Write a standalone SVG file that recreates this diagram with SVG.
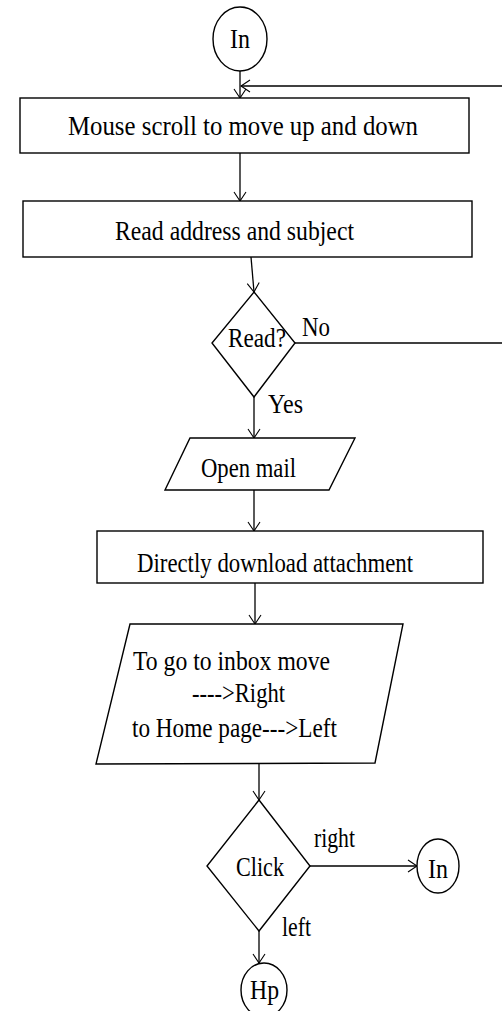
<svg xmlns="http://www.w3.org/2000/svg" width="502" height="1011" viewBox="0 0 502 1011">
<defs>
<marker id="arr" markerWidth="12" markerHeight="14" refX="10" refY="7" orient="auto" markerUnits="userSpaceOnUse">
<path d="M1,1 L10,7 L1,13" fill="none" stroke="#000" stroke-width="1.1"/>
</marker>
<style>
.s{fill:#fff;stroke:#000;stroke-width:1.4}
.c{fill:none;stroke:#000;stroke-width:1.3}
text{font-family:"Liberation Serif","Times New Roman",serif;font-size:27px;fill:#000}
</style>
</defs>
<rect width="502" height="1011" fill="#fff"/>
<g id="connectors">
<line class="c" x1="240" y1="71" x2="240" y2="98" marker-end="url(#arr)"/>
<line class="c" x1="502" y1="86" x2="241" y2="86" marker-end="url(#arr)"/>
<line class="c" x1="240" y1="153" x2="240" y2="201" marker-end="url(#arr)"/>
<line class="c" x1="251" y1="257" x2="254" y2="292" marker-end="url(#arr)"/>
<line class="c" x1="295" y1="343" x2="502" y2="343"/>
<line class="c" x1="254" y1="397" x2="254" y2="438" marker-end="url(#arr)"/>
<line class="c" x1="254" y1="490" x2="254" y2="531" marker-end="url(#arr)"/>
<line class="c" x1="255" y1="583" x2="255" y2="624" marker-end="url(#arr)"/>
<line class="c" x1="259" y1="764" x2="259" y2="800" marker-end="url(#arr)"/>
<line class="c" x1="310" y1="866" x2="417" y2="866" marker-end="url(#arr)"/>
<line class="c" x1="259" y1="931" x2="259" y2="963" marker-end="url(#arr)"/>
<text x="302" y="336" textLength="28" lengthAdjust="spacingAndGlyphs">No</text>
<text x="268" y="413" textLength="35" lengthAdjust="spacingAndGlyphs">Yes</text>
<text x="314" y="847" textLength="41" lengthAdjust="spacingAndGlyphs">right</text>
<text x="282" y="936" textLength="29" lengthAdjust="spacingAndGlyphs">left</text>
</g>
<g id="start">
<ellipse class="s" cx="240" cy="39" rx="27" ry="32"/>
<text x="230" y="48" textLength="20" lengthAdjust="spacingAndGlyphs">In</text>
</g>
<g id="scroll">
<rect class="s" x="20" y="98" width="449" height="55"/>
<text x="68" y="135" textLength="350" lengthAdjust="spacingAndGlyphs">Mouse scroll to move up and down</text>
</g>
<g id="readaddr">
<rect class="s" x="23" y="201" width="449" height="56"/>
<text x="115" y="240" textLength="239" lengthAdjust="spacingAndGlyphs">Read address and subject</text>
</g>
<g id="read">
<polygon class="s" points="254,292 295,343 254,397 212,343"/>
<text x="228" y="347" textLength="58" lengthAdjust="spacingAndGlyphs">Read?</text>
</g>
<g id="openmail">
<polygon class="s" points="190,438 355,438 329,490 165,490"/>
<text x="201" y="477" textLength="95" lengthAdjust="spacingAndGlyphs">Open mail</text>
</g>
<g id="download">
<rect class="s" x="97" y="531" width="386" height="52"/>
<text x="137" y="572" textLength="276" lengthAdjust="spacingAndGlyphs">Directly download attachment</text>
</g>
<g id="move">
<polygon class="s" points="130,624 403,624 375,763 96,764"/>
<text x="133" y="670" textLength="197" lengthAdjust="spacingAndGlyphs">To go to inbox move</text>
<text x="192" y="702" textLength="93" lengthAdjust="spacingAndGlyphs">----&gt;Right</text>
<text x="132" y="737" textLength="205" lengthAdjust="spacingAndGlyphs">to Home page---&gt;Left</text>
</g>
<g id="click">
<polygon class="s" points="259,800 310,866 259,931 207,866"/>
<text x="236" y="876" textLength="48" lengthAdjust="spacingAndGlyphs">Click</text>
</g>
<g id="in2">
<ellipse class="s" cx="438" cy="866" rx="21" ry="27"/>
<text x="428" y="878" textLength="20" lengthAdjust="spacingAndGlyphs">In</text>
</g>
<g id="hp">
<ellipse class="s" cx="264" cy="990" rx="23" ry="27"/>
<text x="250" y="999" textLength="29" lengthAdjust="spacingAndGlyphs">Hp</text>
</g>
</svg>
